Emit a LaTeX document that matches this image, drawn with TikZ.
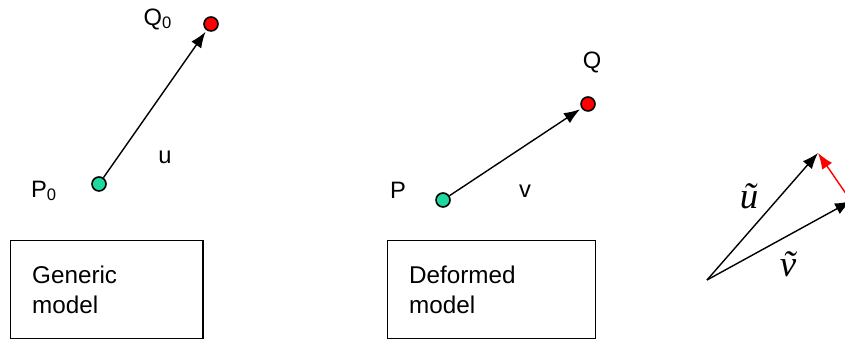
\documentclass[tikz,border=0pt]{standalone}
\usepackage{fontspec}
\setmainfont{Liberation Sans}
\newfontfamily\serifcorsivo{Liberation Serif}
\usetikzlibrary{arrows.meta}
\definecolor{verde}{HTML}{1ED8A0}
\definecolor{rosso}{HTML}{FF0000}

\begin{document}
\begin{tikzpicture}[x=0.02cm, y=-0.02cm,
            punto/.style={circle, draw=black, line width=0.9pt, inner sep=0pt,
                    minimum size=0.28cm},
            etichetta/.style={font=\fontsize{13.5}{15}\selectfont, inner sep=0pt},
            vettore/.style={font=\fontsize{21}{21}\selectfont\serifcorsivo\itshape, inner sep=0pt},
            modello/.style={draw=black, line width=0.8pt, anchor=north west,
                    font=\fontsize{13.8}{17}\selectfont, align=left,
                    inner xsep=0.43cm, minimum height=1.96cm},
            freccia/.style={line width=0.8pt, -{Latex[length=0.32cm, width=0.24cm]}}
        ]
        \clip (0,0) rectangle (845,347);
        % modello generico
        \node[punto, fill=verde] (p0) at (99,184) {};
        \node[punto, fill=rosso] (q0) at (211,24) {};
        \node[etichetta] (lp0) at (44,191) {P\textsubscript{0}};
        \node[etichetta] (lq0) at (158,19) {Q\textsubscript{0}};
        \node[etichetta] (lu) at (165,157) {u};
        \draw[freccia, shorten >=1pt] (p0) -- (q0);
        \node[modello, text width=2.99cm] (gen) at (10,240) {Generic\\model};

        % modello deformato
        \node[punto, fill=verde] (p) at (443,200) {};
        \node[punto, fill=rosso] (q) at (588,104) {};
        \node[etichetta] (lp) at (398,190) {P};
        \node[etichetta] (lq) at (592,62) {Q};
        \node[etichetta] (lv) at (525,191) {v};
        \draw[freccia, shorten >=1pt] (p) -- (q);
        \node[modello, text width=3.3cm] (def) at (387,240) {Deformed\\model};

        % vettori
        \coordinate (o) at (707,280);
        \coordinate (ut) at (818,153);
        \coordinate (vt) at (851,201);
        \draw[freccia] (o) -- (ut);
        \draw[freccia] (o) -- (vt);
        \draw[freccia, draw=rosso, fill=rosso] (vt) -- (ut);
        \node[vettore] (lut) at (749,196) {ũ};
        \node[vettore] (lvt) at (788,264) {ṽ};
    \end{tikzpicture}
\end{document}
